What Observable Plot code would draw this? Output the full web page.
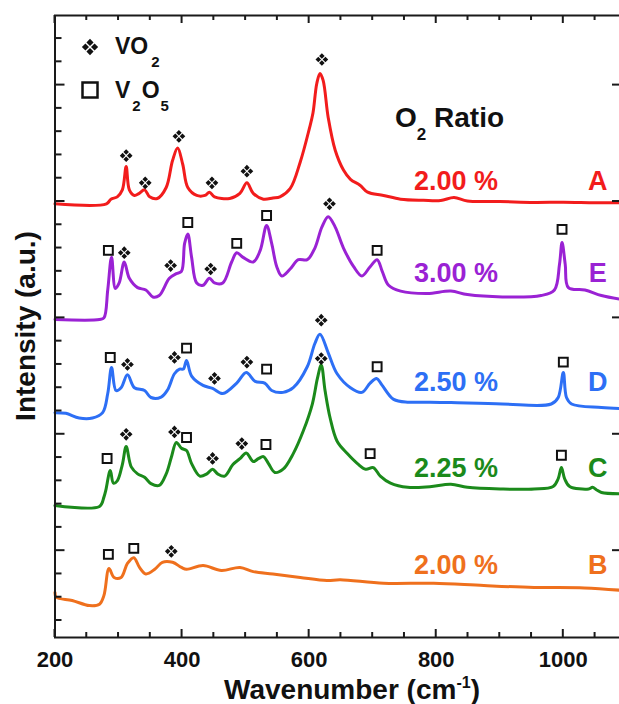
<!DOCTYPE html>
<html><head><meta charset="utf-8">
<script src="https://cdn.jsdelivr.net/npm/d3@7"></script>
<script src="https://cdn.jsdelivr.net/npm/@observablehq/plot@0.6"></script>
<style>
html,body{margin:0;padding:0;background:#fff;overflow:hidden;}
#chart svg{display:block;max-width:none !important;height:704px !important;}
</style></head><body><div id="chart"></div>
<script>
// ---- data: [wavenumber (cm^-1), intensity (a.u., stacked)] ----
const specA = [[200,17.9],[281,17.9],[288,18.1],[298,18.2],[306,18.5],[312,19.5],[317,18.5],[325,18.26],[332,18.34],[341,18.5],[349,18.2],[361,18.13],[375,18.6],[385,19.76],[393,20.3],[401,19.6],[409,18.6],[423,18.26],[436,18.26],[443,18.4],[451,18.2],[475,18.13],[491,18.35],[502,18.8],[512,18.35],[528,18.1],[543,18.15],[554,18.2],[570,18.55],[586,19.7],[600,21.1],[606,21.8],[612,23.07],[617,23.5],[622,23.2],[630,21.6],[641,20.2],[654,19.35],[665,18.95],[680,18.7],[692,18.4],[717,18.26],[744,18.1],[780,18.05],[807,18.04],[828,18.17],[849,18.02],[900,18.0],[954,17.96],[1000,17.97],[1050,17.95],[1090,17.95]];
const specE = [[200,12.93],[270,12.93],[277,13.0],[283,14.2],[289,15.6],[295,14.26],[301,14.5],[309,15.4],[317,14.7],[330,14.3],[343,14.2],[354,13.9],[364,13.96],[380,14.7],[391,14.9],[399,15.0],[404,16.2],[409,16.6],[415,15.6],[423,14.5],[433,14.4],[443,14.7],[451,14.5],[464,14.5],[478,15.4],[486,15.8],[496,15.6],[512,15.4],[523,15.9],[533,16.97],[541,16.2],[549,15.2],[557,14.8],[570,15.1],[583,15.5],[597,15.5],[609,16.0],[620,16.9],[630,17.35],[641,16.9],[654,16.0],[670,15.2],[683,14.8],[696,15.2],[707,15.5],[715,15.0],[725,14.4],[744,14.15],[786,14.05],[823,14.15],[849,14.0],[904,13.9],[965,13.96],[986,14.2],[994,15.3],[998,16.24],[1003,15.3],[1008,14.3],[1034,14.2],[1060,13.96],[1090,13.8]];
const specD = [[200,8.93],[217,8.9],[238,8.7],[259,8.7],[275,8.93],[283,9.75],[289,10.87],[296,9.88],[304,10.0],[314,10.56],[325,10.0],[341,9.88],[351,9.58],[367,9.6],[377,9.9],[388,10.6],[396,10.8],[402,10.8],[407,11.17],[415,10.5],[433,10.1],[448,9.97],[464,9.75],[486,10.2],[501,10.65],[515,10.27],[530,10.2],[541,9.88],[559,9.8],[575,10.0],[597,10.9],[609,11.9],[617,12.3],[630,11.5],[644,10.6],[665,10.0],[683,9.8],[696,10.2],[706,10.4],[715,10.1],[733,9.5],[757,9.38],[790,9.38],[823,9.36],[904,9.3],[981,9.3],[992,9.58],[1000,10.65],[1005,9.58],[1013,9.3],[1060,9.15],[1090,9.1]];
const specC = [[200,4.94],[270,4.9],[277,5.3],[280,5.6],[287,6.44],[292,5.9],[298,6.0],[306,6.7],[312,7.47],[320,6.6],[330,6.3],[341,6.15],[351,5.88],[364,5.8],[375,6.3],[383,7.0],[391,7.65],[399,7.4],[407,7.3],[415,6.74],[428,6.2],[439,6.3],[448,6.5],[456,6.3],[467,6.2],[480,6.7],[491,6.95],[501,7.2],[512,6.83],[520,6.95],[528,7.04],[536,6.74],[546,6.36],[559,6.5],[575,7.17],[591,8.16],[605,9.3],[613,10.4],[619,10.98],[625,9.88],[633,8.7],[644,7.7],[660,7.17],[676,6.74],[689,6.5],[701,6.57],[712,6.2],[728,5.9],[755,5.72],[790,5.75],[823,5.85],[849,5.72],[902,5.65],[954,5.65],[984,5.76],[992,6.1],[997,6.57],[1002,6.1],[1010,5.76],[1040,5.65],[1046,5.72],[1052,5.62],[1060,5.5],[1090,5.45]];
const specB = [[200,1.2],[202,1.0],[227,0.86],[254,0.64],[270,0.7],[277,1.07],[285,2.23],[293,1.85],[304,1.85],[314,2.45],[324,2.7],[333,2.28],[343,2.0],[357,2.2],[369,2.5],[385,2.5],[399,2.28],[407,2.2],[433,2.36],[462,2.15],[491,2.28],[512,2.1],[543,2.0],[586,1.85],[628,1.72],[649,1.75],[717,1.6],[796,1.6],[875,1.5],[954,1.42],[1033,1.4],[1090,1.3]];

const seriesKeys = ["A","E","D","C","B"];
const seriesPct  = ["2.00 %","3.00 %","2.50 %","2.25 %","2.00 %"];
const seriesSpectra = [specA, specE, specD, specC, specB];

// peak markers [wavenumber, height]
const vo2Peaks = [[312,19.97],[342,18.8],[395,20.8],[447,18.8],[502,19.3],[620,24.1],
  [309,15.8],[382,15.25],[445,15.1],[632,17.9],
  [314,11.0],[388,11.3],[451,10.4],[502,11.1],[619,12.9],
  [312,8.0],[388,8.1],[448,6.96],[494,7.6],[619,11.25],
  [383,2.97]];
const v2o5Peaks = [[284,15.9],[409,17.1],[486,16.2],[533,17.4],[707,15.9],[998,16.8],
  [287,11.3],[407,11.7],[533,10.8],[707,10.9],[1000,11.1],
  [282,6.96],[407,7.86],[532,7.56],[696,7.17],[997,7.1],
  [284,2.84],[324,3.1]];

const xTickLabels = [200,400,600,800,1000];

// ---- styles / layout ----
const seriesColors = ["#f21c1c","#9a22d4","#2d6ff5","#1b8a1b","#ef701d"];
const labelBaseline = [18.5, 14.56, 9.84, 6.18, 1.98];
const pctX = 831, letterX = 1054;
const FONT = "'Liberation Sans', Arial, Helvetica, sans-serif";
const xDomain = [200, 1090];
const yDomain = [-0.73, 25.99];

const vo2Symbol = {draw(ctx, size) {
  const r = Math.sqrt(size / Math.PI), o = r * 0.55, h = r * 0.43;
  for (const [cx, cy] of [[0,-o],[o,0],[0,o],[-o,0]]) {
    ctx.moveTo(cx, cy - h); ctx.lineTo(cx + h, cy); ctx.lineTo(cx, cy + h); ctx.lineTo(cx - h, cy); ctx.closePath();
  }
}};

const labels = seriesKeys.map((k, i) => ({k, pct: seriesPct[i], i}));

const plot = Plot.plot({
  width: 621, height: 704,
  marginLeft: 54.5, marginRight: 1, marginTop: 15, marginBottom: 67,
  x: {domain: xDomain, axis: null},
  y: {domain: yDomain, axis: null},
  style: {fontFamily: FONT, background: "white"},
  marks: [
    ...seriesSpectra.map((s, i) => Plot.line(s, {x: d => d[0], y: d => d[1], stroke: seriesColors[i], strokeWidth: 3, curve: "catmull-rom"})),
    Plot.dot(vo2Peaks, {x: d => d[0], y: d => d[1], symbol: vo2Symbol, r: 6.5, fill: "#111", stroke: "none"}),
    Plot.dot(v2o5Peaks, {x: d => d[0], y: d => d[1], symbol: "square", r: 5, fill: "white", stroke: "#111", strokeWidth: 2}),
    Plot.text(labels, {x: () => pctX, y: d => labelBaseline[d.i], text: d => d.pct, fill: d => seriesColors[d.i], fontSize: 27, fontWeight: "bold", lineAnchor: "bottom", textAnchor: "middle"}),
    Plot.text(labels, {x: () => letterX, y: d => labelBaseline[d.i], text: d => d.k, fill: d => seriesColors[d.i], fontSize: 27, fontWeight: "bold", lineAnchor: "bottom", textAnchor: "middle"}),
    Plot.axisX(xTickLabels, {tickSize: 0, tickPadding: 14, fontSize: 22, fontWeight: "bold", fill: "#111", tickFormat: d => String(d)}),
    Plot.frame({stroke: "#1a1a1a", strokeWidth: 2})
  ]
});
document.getElementById("chart").appendChild(plot);

// ticks, titles and legend
const svg = d3.select(plot);
const sx = plot.scale("x"), sy = plot.scale("y");
const xl = sx.apply(xDomain[0]), xr = sx.apply(xDomain[1]);
const yb = sy.apply(yDomain[0]), yt = sy.apply(yDomain[1]);
const g = svg.append("g").attr("stroke", "#1a1a1a").attr("stroke-width", 2);
for (const v of d3.range(200, 1091, 50)) {
  const x = sx.apply(v), len = v % 200 === 0 ? 8 : 5;
  g.append("line").attr("x1", x).attr("x2", x).attr("y1", yb).attr("y2", yb - len);
  g.append("line").attr("x1", x).attr("x2", x).attr("y1", yt).attr("y2", yt + len);
}
for (const v of d3.range(0, 26)) {
  const y = sy.apply(v), major = v % 5 === 3;
  g.append("line").attr("x1", xl).attr("x2", xl + (major ? 10 : 7)).attr("y1", y).attr("y2", y);
  if (major) g.append("line").attr("x1", xr).attr("x2", xr - 8).attr("y1", y).attr("y2", y);
}
const T = svg.append("g").attr("font-family", FONT).attr("font-weight", "bold").attr("fill", "#111").attr("text-anchor", "start");
// y label
T.append("text").attr("transform", "translate(35,326) rotate(-90)").attr("text-anchor", "middle").attr("font-size", 28).text("Intensity (a.u.)");
// x label
const xt = T.append("text").attr("x", 352).attr("y", 699).attr("text-anchor", "middle").attr("font-size", 28);
xt.append("tspan").text("Wavenumber (cm");
xt.append("tspan").attr("font-size", 16).attr("dy", -11).text("-1");
xt.append("tspan").attr("dy", 11).text(")");
// O2 Ratio
const rt = T.append("text").attr("x", 395).attr("y", 127).attr("font-size", 28);
rt.append("tspan").text("O");
rt.append("tspan").attr("font-size", 17).attr("dy", 13).text("2");
rt.append("tspan").attr("dy", -13).text(" Ratio");
// legend
T.append("path").attr("transform", "translate(90,47)").attr("d", d3.symbol(vo2Symbol, Math.PI * 8.3 * 8.3)()).attr("fill", "#111");
T.append("rect").attr("x", 82.5).attr("y", 82.5).attr("width", 15).attr("height", 15).attr("fill", "none").attr("stroke", "#111").attr("stroke-width", 2.5);
const l1 = T.append("text").attr("x", 115).attr("y", 54).attr("font-size", 23);
l1.append("tspan").text("VO");
l1.append("tspan").attr("font-size", 15).attr("dx", 3).attr("dy", 13).text("2");
const l2 = T.append("text").attr("x", 115).attr("y", 98).attr("font-size", 23);
l2.append("tspan").text("V");
l2.append("tspan").attr("font-size", 15).attr("dx", 2).attr("dy", 13).text("2");
l2.append("tspan").attr("dx", 1).attr("dy", -13).text("O");
l2.append("tspan").attr("font-size", 15).attr("dx", 1).attr("dy", 13).text("5");
</script></body></html>
